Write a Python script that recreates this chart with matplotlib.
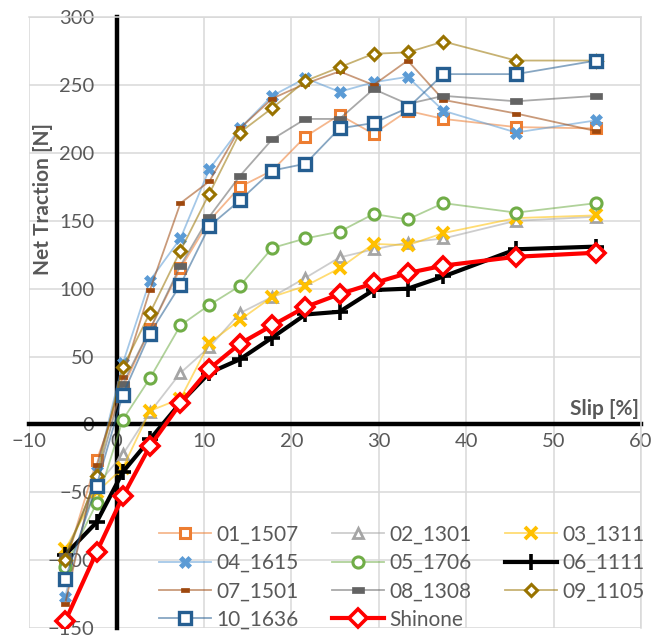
import matplotlib
matplotlib.use("Agg")
import matplotlib.pyplot as plt

# slip [%] values shared by all runs
slip = [-5.9, -2.3, 0.7, 3.8, 7.3, 10.6, 14.1, 17.8, 21.6, 25.5, 29.4, 33.3, 37.4, 45.7, 54.9]

t_01_1507 = [-103, -26.5, 27, 70, 115, 150, 175, 187, 212, 228, 214, 231, 225, 219, 218]
t_02_1301 = [-95, -45, -22, 9, 38, 57, 82, 94, 108, 123, 129, 134, 137, 150, 153]
t_03_1311 = [-92, -50, -32, 10, 19, 60, 77, 94, 102, 115, 133, 132, 141, 152, 154]
t_04_1615 = [-127, -34, 45, 106, 137, 188, 218, 242, 255, 245, 252, 256, 231, 215, 224]
t_05_1706 = [-105, -58, 3.5, 34, 73, 88, 102, 130, 137, 142, 155, 151, 163, 156, 163]
t_06_1111 = [-96, -72, -35, -11, 16, 38, 48, 64, 81, 83, 99, 100, 109, 129, 131]
t_07_1501 = [-132, -30, 35, 99, 163, 179, 218, 240, 251, 260, 250, 268, 239, 229, 216]
t_08_1308 = [-97, -40, 30, 70, 117, 153, 183, 210, 225, 225, 247, 236, 242, 238, 242]
t_09_1105 = [-100, -38, 42, 82, 128, 170, 215, 233, 253, 263, 273, 274, 282, 268, 268]
t_10_1636 = [-114, -45, 22, 67, 103, 146, 165, 187, 192, 218, 222, 233, 258, 258, 268]
t_shinone = [-145, -94, -53, -16, 15.5, 41, 59.5, 73, 86.5, 96, 104, 111.5, 117, 123.5, 126.5]

labels = ["01_1507", "02_1301", "03_1311", "04_1615", "05_1706", "06_1111",
          "07_1501", "08_1308", "09_1105", "10_1636", "Shinone"]

plt.rcParams["font.family"] = ["Lato", "DejaVu Sans"]
TXT = "#595959"

rect_small = [(-1, -0.55), (1, -0.55), (1, 0.55), (-1, 0.55), (-1, -0.55)]
rect_wide = [(-1, -0.45), (1, -0.45), (1, 0.45), (-1, 0.45), (-1, -0.45)]

# (values, colour, marker, markersize, mew, linewidth, line alpha, hollow)
styles = [
    (t_01_1507, "#ED7D31", "s", 7, 2.2, 1.3, 0.55, True),
    (t_02_1301, "#A5A5A5", "^", 7, 2.0, 1.3, 0.55, True),
    (t_03_1311, "#FFC000", "x", 8, 2.8, 1.3, 0.55, True),
    (t_04_1615, "#5B9BD5", "X", 9, 0.5, 1.3, 0.55, False),
    (t_05_1706, "#70AD47", "o", 8, 2.2, 1.3, 0.55, True),
    (t_06_1111, "#000000", "+", 12, 2.6, 3.0, 1.0, False),
    (t_07_1501, "#9E480E", rect_small, 6, 0.5, 1.3, 0.55, False),
    (t_08_1308, "#636363", rect_wide, 9, 0.5, 1.3, 0.55, False),
    (t_09_1105, "#997300", "D", 6, 2.2, 1.3, 0.55, True),
    (t_10_1636, "#255E91", "s", 8, 2.4, 1.3, 0.55, True),
    (t_shinone, "#FF0000", "D", 9, 2.6, 3.0, 1.0, True),
]

fig = plt.figure(figsize=(6.69, 6.35), dpi=100)
ax = fig.add_axes([0.0438, 0.0107, 0.9143, 0.9624])

lines = []
for (vals, col, mk, ms, mew, lw, la, hollow), lab in zip(styles, labels):
    rgba = matplotlib.colors.to_rgba(col, la)
    ln, = ax.plot(slip, vals, color=rgba, linewidth=lw, marker=mk, markersize=ms,
                  markeredgewidth=mew, markeredgecolor=col,
                  markerfacecolor="white" if hollow else col, label=lab, zorder=3)
    lines.append(ln)

ax.set_xlim(-10, 60)
ax.set_ylim(-150, 300)
ax.set_xticks(range(-10, 61, 10))
ax.set_yticks(range(-150, 301, 50))
ax.grid(True, color="#D9D9D9", linewidth=1.1)
ax.set_axisbelow(True)

ax.spines["left"].set_position(("data", 0))
ax.spines["bottom"].set_position(("data", 0))
for s in ["left", "bottom"]:
    ax.spines[s].set_linewidth(3.2)
    ax.spines[s].set_color("black")
    ax.spines[s].set_zorder(1)
for s in ["top", "right"]:
    ax.spines[s].set_color("#D9D9D9")
    ax.spines[s].set_linewidth(1.1)

ax.tick_params(axis="both", length=0, labelsize=14.5, labelcolor=TXT)
ax.tick_params(axis="y", pad=16)
ax.tick_params(axis="x", pad=6)

fig.text(0.064, 0.686, "Net Traction [N]", rotation=90, ha="center", va="center",
         fontsize=15, fontweight="bold", color=TXT)
ax.text(59.8, 4, "Slip [%]", ha="right", va="bottom", fontsize=15,
        fontweight="bold", color=TXT)

# legend is filled row by row in the reference, matplotlib fills columns
order = [0, 3, 6, 9, 1, 4, 7, 10, 2, 5, 8]
leg = ax.legend([lines[i] for i in order], [labels[i] for i in order],
                loc="upper left", bbox_to_anchor=(0.222, 0.19),
                bbox_transform=fig.transFigure, ncol=3, frameon=False,
                fontsize=15, handlelength=2.5, handletextpad=0.25,
                columnspacing=1.6, labelspacing=0.4, borderpad=0)
for t in leg.get_texts():
    t.set_color(TXT)

fig.savefig("out.png", dpi=100)
